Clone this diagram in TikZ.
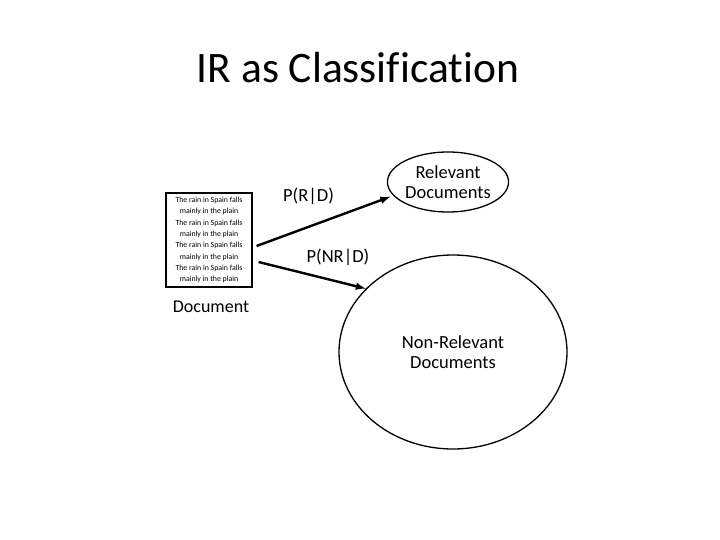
\documentclass[tikz,border=0pt]{standalone}
\usepackage{fontspec}
\setmainfont{Carlito}[Ligatures={NoCommon}]
\usetikzlibrary{positioning,arrows,shapes.geometric}
\tikzset{>=latex}

\begin{document}
\begin{tikzpicture}[x=1pt, y=-1pt, text centered]
    \tikzset{%
      docbox/.style={draw, line width=1.2pt, fill=white, inner sep=0pt, minimum width=86pt, minimum height=94pt},
      klasse/.style={draw, line width=1.3pt, ellipse, inner sep=0pt, align=center, font=\fontsize{18.5}{20}\selectfont},
      pfeil/.style={->, line width=2.4pt},
      prob/.style={font=\fontsize{18.5}{20}\selectfont}
      }
     \useasboundingbox (0,0) rectangle (720,540);

     \node (title) at (358, 68) {\fontsize{43.5}{50}\selectfont IR as Classification};

     \node [docbox] (doc) at (209, 240) {};
     \node [align=center, font=\fontsize{7.8}{11.3}\selectfont] (doctext) at (doc.center)
        {The rain in Spain falls\\ mainly in the plain\\ The rain in Spain falls\\ mainly in the plain\\
         The rain in Spain falls\\ mainly in the plain\\ The rain in Spain falls\\ mainly in the plain};
     \node [font=\fontsize{18}{20}\selectfont] (doclabel) at (211, 307) {Document};

     \node [klasse, minimum width=120pt, minimum height=60pt] (rel) at (448, 182) {Relevant\\ Documents};
     \node [klasse, minimum width=228pt, minimum height=194pt] (nonrel) at (453, 352) {Non-Relevant\\ Documents};

     \draw [pfeil, shorten >=3pt] ([yshift=-6pt]doc.east) ++(4,0) -- node [prob, pos=0.38, above=18pt] (prd) {P(R|D)} (rel.194);
     \draw [pfeil] ([yshift=-22pt]doc.east) ++(6,0) -- node [prob, pos=0.74, above=12pt] (pnrd) {P(NR|D)} (nonrel.144);

  \end{tikzpicture}
\end{document}
